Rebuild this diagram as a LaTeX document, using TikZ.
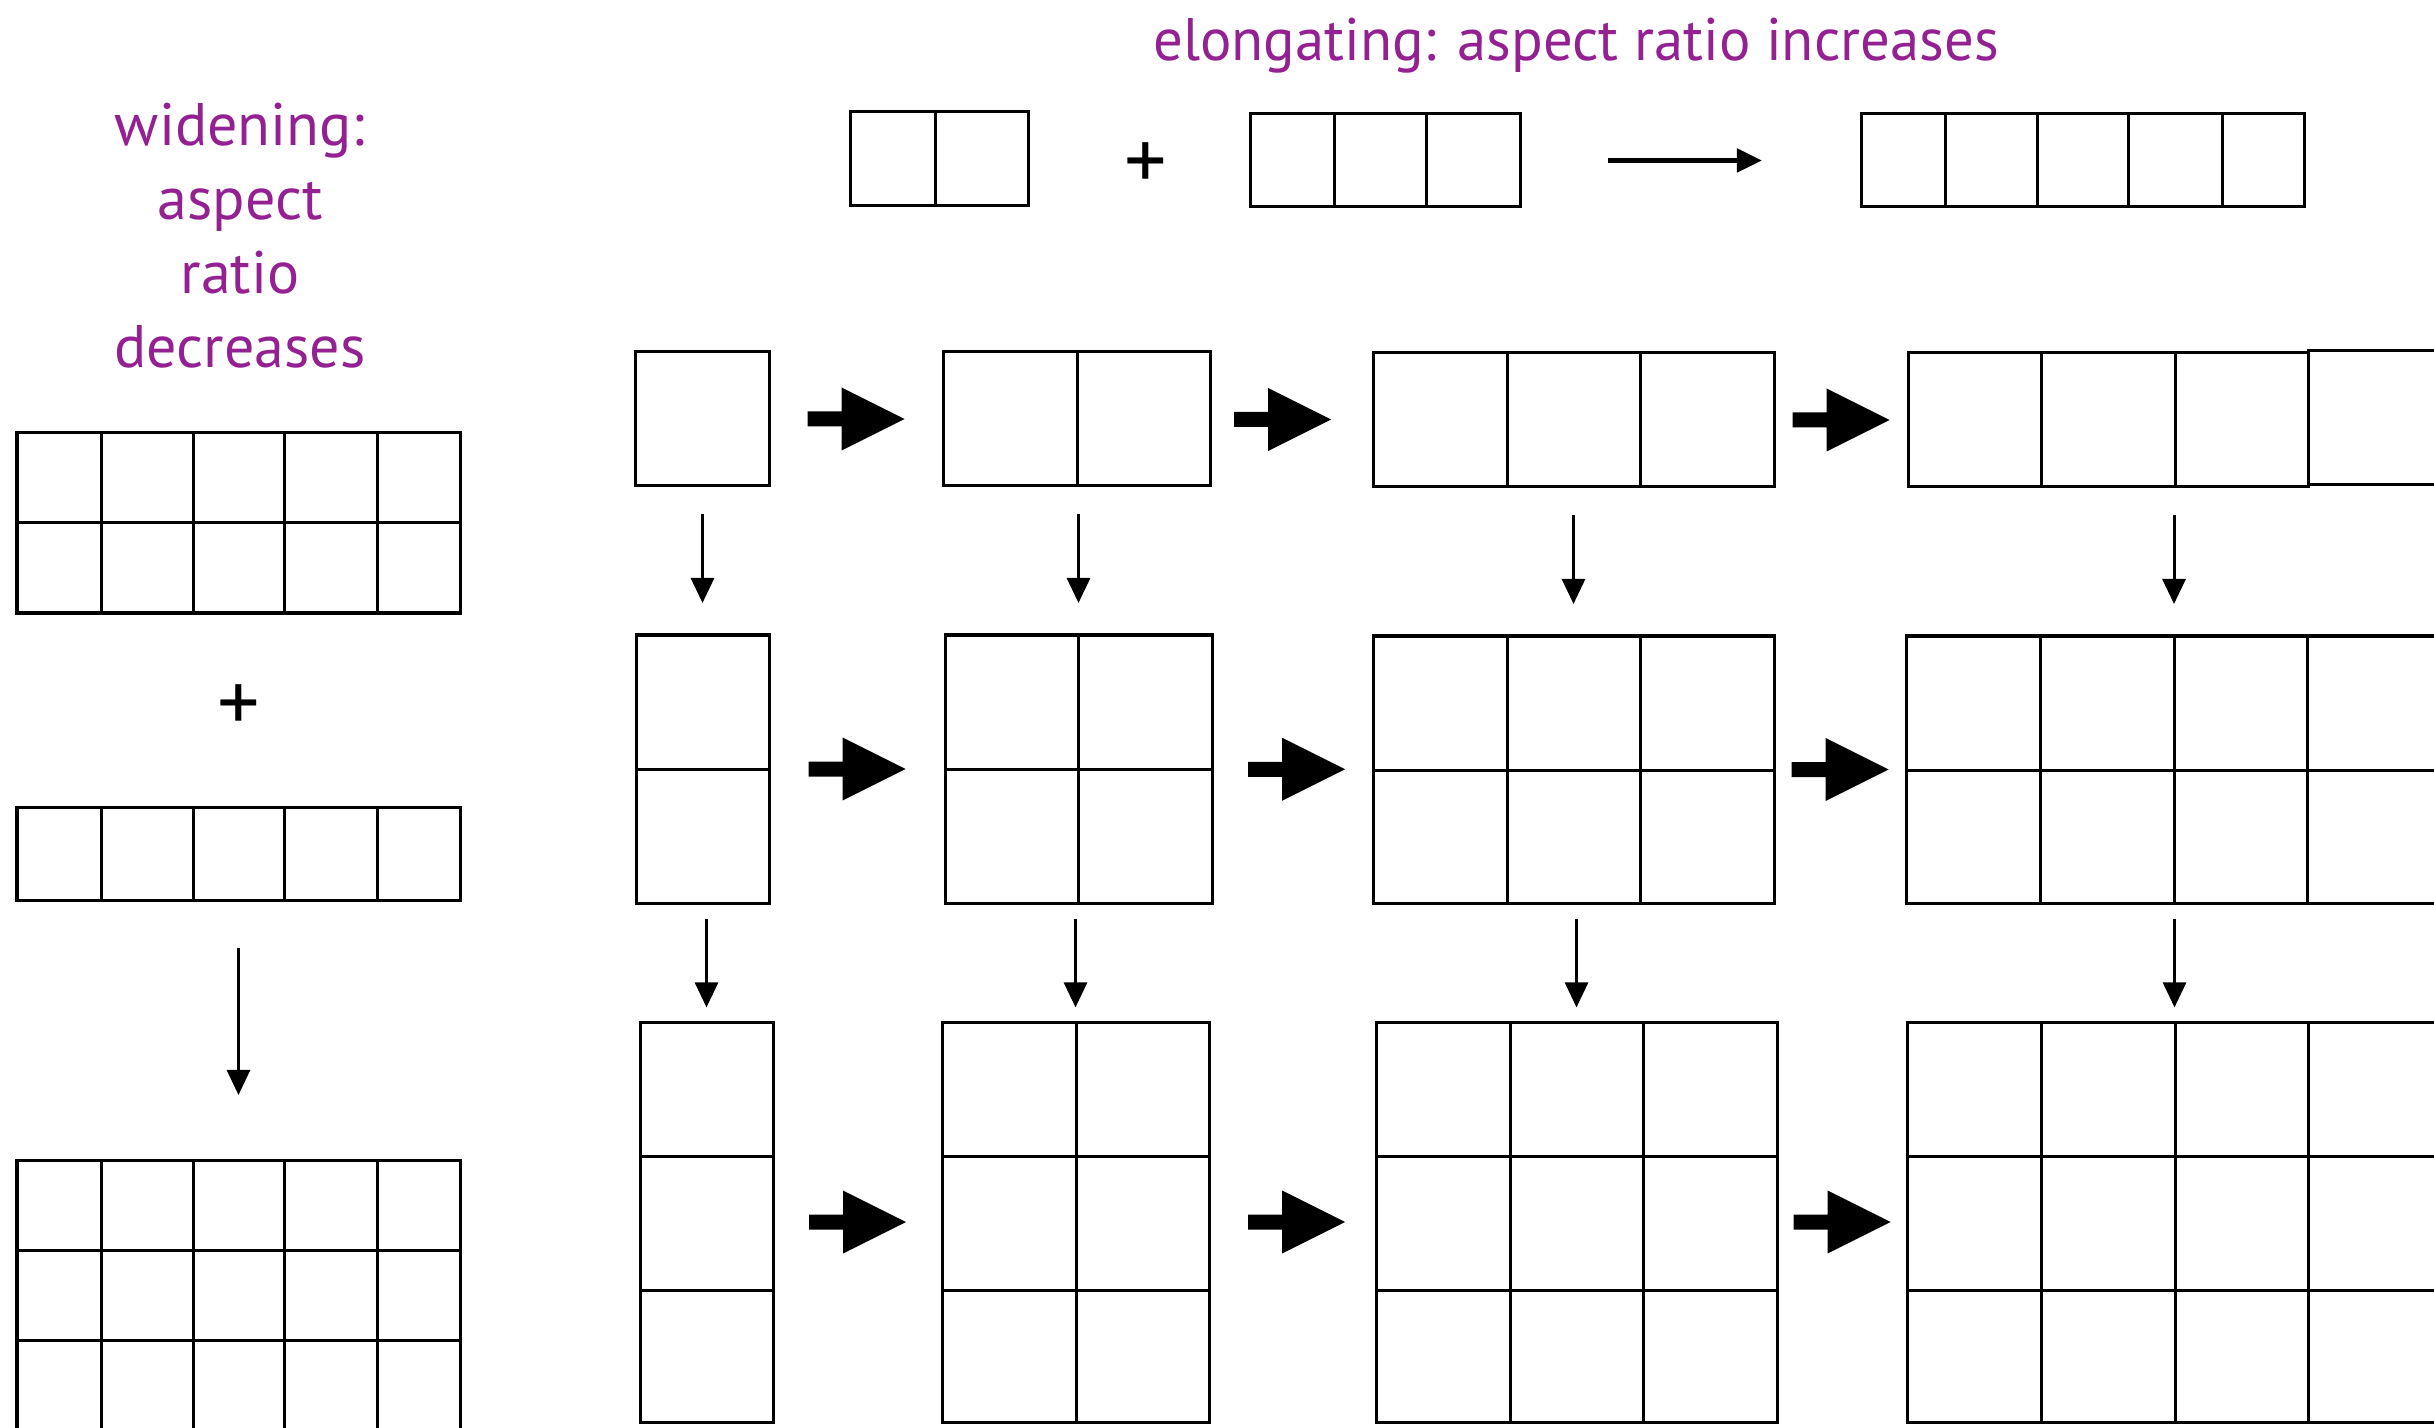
\documentclass[tikz,border=0pt]{standalone}
\usepackage{fontspec}
\setmainfont{PT Sans}
\usetikzlibrary{arrows.meta,calc,fit}
\definecolor{plum}{RGB}{148,33,146}
\tikzset{
  gridline/.style={line width=0.03cm, line cap=rect},
  gridholder/.style={inner sep=0pt, outer sep=0pt, draw=none},
  thinarrow/.style={line width=0.03cm, -{Triangle[length=0.25cm,width=0.23cm]}},
  headline/.style={text=plum, font=\fontsize{17.07}{21.1}\selectfont, inner sep=0pt},
  plussign/.style={font=\fontsize{24}{28}\selectfont, inner sep=0pt},
  fatarrow/.pic={\fill (-48.5,-7.5) -- (-14.5,-7.5) -- (-14.5,-31.5) -- (48.5,0)
                        -- (-14.5,31.5) -- (-14.5,7.5) -- (-48.5,7.5) -- cycle;}
}
% #1 name, #2 left, #3 top, #4 right, #5 bottom, #6 column edges, #7 row edges
\newcommand\cellgrid[7]{%
  \node[gridholder, fit={(#2,#3) (#4,#5)}] (#1) {};
  \foreach \gx in {#6} {\draw[gridline] (\gx,#3) -- (\gx,#5);}
  \foreach \gy in {#7} {\draw[gridline] (#2,\gy) -- (#4,\gy);}
}
\begin{document}
\begin{tikzpicture}[x=0.01cm, y=-0.01cm]
\clip (0,0) rectangle (2434,1428);
\fill[white] (0,0) rectangle (2434,1428);

% headings
\node[headline, anchor=base, xscale=0.978] (elong) at (1576,61) {elongating: aspect ratio increases};
\node[headline, align=center, anchor=north] (widen) at (240,102) {widening:\\aspect\\ratio\\decreases};

% elongating: 2 + 3 -> 5
\cellgrid{a2}{850}{112}{1028}{206}{850,935,1028}{112,206}
\cellgrid{a3}{1250}{114}{1520}{207}{1250,1334,1426,1520}{114,207}
\cellgrid{a5}{1861}{114}{2304}{207}{1861,1945,2037,2128,2222,2304}{114,207}
\node[plussign] (plusA) at ($(a2.east)!0.5!(a3.west)+(7,6)$) {+};
\draw[thinarrow, line width=0.05cm, shorten <=0.88cm, shorten >=0.99cm] (a3.east) -- (a5.west);

% widening: 2x5 + 1x5 -> 3x5
\cellgrid{wA}{17}{433}{460}{613}{17,101,193,284,377,460}{433,523,613}
\cellgrid{wB}{17}{807}{460}{900}{17,101,193,284,377,460}{807,900}
\cellgrid{wC}{17}{1160}{460}{1430}{17,101,193,284,377,460}{1160,1250,1340,1430}
\node[plussign] (plusB) at ($(wA.south)!0.5!(wB.north)+(0,-2)$) {+};
\draw[thinarrow, shorten <=0.48cm, shorten >=0.65cm] (wB.south) -- (wC.north);

% row 1
\cellgrid{r1c1}{635}{352}{769}{486}{635,769}{352,486}
\cellgrid{r1c2}{943}{352}{1210}{486}{943,1077,1210}{352,486}
\cellgrid{r1c3}{1373}{353}{1774}{487}{1373,1507,1640,1774}{353,487}
\cellgrid{r1c4}{1908}{353}{2308}{487}{1908,2041,2175,2308}{353,487}
\node[draw, line width=0.03cm, inner sep=0pt, fit={(2308,351) (2442,485)}] (r1c4x) {};

% row 2
\cellgrid{r2c1}{636}{635}{769}{903}{636,769}{635,769,903}
\cellgrid{r2c2}{945}{635}{1212}{903}{945,1078,1212}{635,769,903}
\cellgrid{r2c3}{1373}{636}{1774}{903}{1373,1507,1640,1774}{636,770,903}
\cellgrid{r2c4}{1906}{636}{2442}{903}{1906,2040,2174,2307,2442}{636,770,903}

% row 3
\cellgrid{r3c1}{640}{1022}{773}{1422}{640,773}{1022,1156,1290,1422}
\cellgrid{r3c2}{942}{1022}{1209}{1422}{942,1076,1209}{1022,1156,1290,1422}
\cellgrid{r3c3}{1376}{1022}{1777}{1422}{1376,1510,1643,1777}{1022,1156,1290,1422}
\cellgrid{r3c4}{1907}{1022}{2442}{1422}{1907,2041,2175,2308,2442}{1022,1156,1290,1422}

% horizontal growth
\pic at ($(r1c1.east)!0.5!(r1c2.west)$) {fatarrow};
\pic at ($(r1c2.east)!0.5!(r1c3.west)+(-9,0)$) {fatarrow};
\pic at ($(r1c3.east)!0.5!(r1c4.west)$) {fatarrow};
\foreach \r in {2,3} {
  \pic at ($(r\r c1.east)!0.5!(r\r c2.west)$) {fatarrow};
  \pic at ($(r\r c2.east)!0.5!(r\r c3.west)+(4,0)$) {fatarrow};
  \pic at ($(r\r c3.east)!0.5!(r\r c4.west)$) {fatarrow};
}

% vertical growth
\foreach \c in {1,2,3,4} {
  \draw[thinarrow, shorten <=0.28cm, shorten >=0.32cm] (r1c\c.south -| r2c\c.north) -- (r2c\c.north);
  \draw[thinarrow, shorten <=0.155cm, shorten >=0.146cm] (r2c\c.south -| r3c\c.north) -- (r3c\c.north);
}
\end{tikzpicture}
\end{document}
